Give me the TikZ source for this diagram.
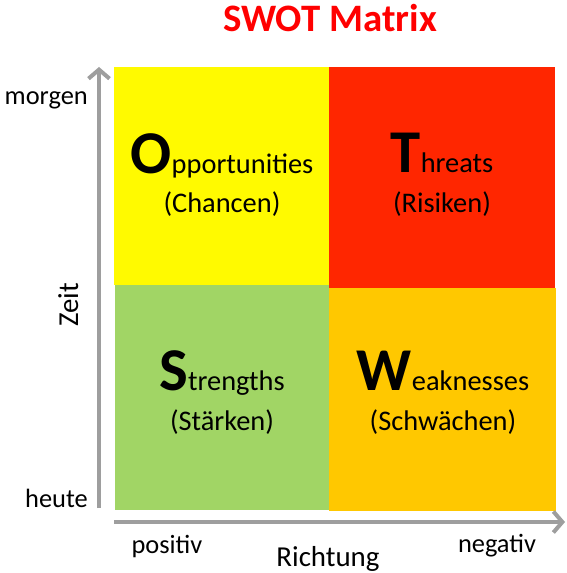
\documentclass[tikz,border=0pt]{standalone}
\usepackage{fontspec}
\setmainfont{Carlito}
\usetikzlibrary{arrows.meta}
\definecolor{swotyellow}{RGB}{255,250,0}
\definecolor{swotred}{RGB}{255,38,0}
\definecolor{swotgreen}{RGB}{161,213,101}
\definecolor{swotorange}{RGB}{255,200,0}
\definecolor{axisgray}{RGB}{158,158,158}
\definecolor{titlered}{RGB}{255,0,0}
\newcommand{\swotinitial}[1]{{\fontsize{61}{61}\selectfont\bfseries #1}}
\tikzset{
	quad/.style={fill=#1, draw=none},
	qtext/.style={anchor=base, inner sep=0pt, font=\fontsize{28.5}{30}\selectfont},
	axislabel/.style={anchor=base, inner sep=0pt, font=\fontsize{26.5}{28}\selectfont},
	axisname/.style={anchor=base, inner sep=0pt, font=\fontsize{29}{30}\selectfont},
	axis/.style={draw=axisgray, line width=4bp, -{Straight Barb[length=9bp,width=21bp]}}
}
\begin{document}
\begin{tikzpicture}[x=1bp,y=-1bp]
			\useasboundingbox (0,0) rectangle (567,573);
			% quadrants
			\path[quad=swotyellow] (114,67) rectangle (329,285);
			\path[quad=swotred] (329,67) rectangle (555,288);
			\path[quad=swotgreen] (115,285) rectangle (329,510);
			\path[quad=swotorange] (329,288) rectangle (556,511);
			% axes
			\coordinate (zeitfrom) at (99,508);
			\coordinate (zeitto) at (99,67);
			\coordinate (richtfrom) at (114,522);
			\coordinate (richtto) at (565,522);
			\draw[axis] (zeitfrom) -- (zeitto);
			\draw[axis] (richtfrom) -- (richtto);
			% texts
			\node[anchor=base, inner sep=0pt, text=titlered, font=\fontsize{39}{40}\selectfont\bfseries] (title) at (330,32) {SWOT Matrix};
			\node[qtext] (opp) at (222,173) {\swotinitial{O}pportunities};
			\node[qtext] (oppde) at (222,212) {(Chancen)};
			\node[qtext] (thr) at (442,172) {\swotinitial{T}hreats};
			\node[qtext] (thrde) at (442,212) {(Risiken)};
			\node[qtext] (str) at (222,390) {\swotinitial{S}trengths};
			\node[qtext] (strde) at (222,430) {(Stärken)};
			\node[qtext] (wea) at (443,390) {\swotinitial{W}eaknesses};
			\node[qtext] (weade) at (443,430) {(Schwächen)};
			\node[axislabel, anchor=base east] (morgen) at (88,105) {morgen};
			\node[axislabel, anchor=base east] (heute) at (88,507) {heute};
			\node[axisname, rotate=90] (zeit) at (78,305) {Zeit};
			\node[axislabel] (positiv) at (167,553) {positiv};
			\node[axislabel] (negativ) at (497,552) {negativ};
			\node[axisname] (richtung) at (328,566) {Richtung};
\end{tikzpicture}
\end{document}
